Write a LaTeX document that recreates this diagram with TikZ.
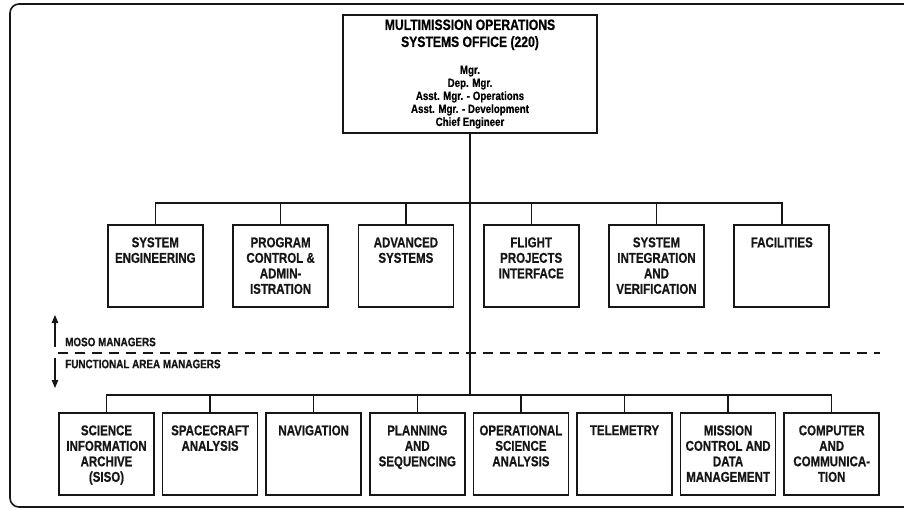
\documentclass[tikz,border=0pt]{standalone}
\usepackage{fontspec}
\setmainfont{Liberation Sans}[FakeStretch=0.81, BoldFeatures={FakeBold=0.6}]
\usepackage{tikz}
\usetikzlibrary{arrows.meta,positioning}
\definecolor{InkBlack}{HTML}{161616}
\newcommand{\unitfont}{\fontsize{14.2}{15.5}\selectfont\bfseries}
\newcommand{\titlefont}{\fontsize{15}{17}\selectfont\bfseries}
\newcommand{\stafffont}{\fontsize{12}{13}\selectfont\bfseries}
\newcommand{\tierfont}{\fontsize{12.2}{13}\selectfont\bfseries}

\begin{document}
\begin{tikzpicture}[
  x=1pt, y=-1pt,
  % outer frame
  frame/.style={draw=InkBlack, line width=1.6pt, rounded corners=9pt},
  % office box on top
  office/.style={draw=InkBlack, line width=1.8pt,
                 minimum width=254pt, minimum height=118pt,
                 align=center, font=\stafffont, inner sep=0pt},
  % unit boxes (text set at the top)
  unit/.style={draw=InkBlack, line width=1.7pt,
               minimum width=95pt, minimum height=82pt, inner sep=0pt},
  utext/.style={anchor=north, yshift=-13pt, align=center,
                font=\unitfont, inner sep=0pt, text=InkBlack},
  % connectors
  conn/.style={draw=InkBlack, line width=1.4pt},
  tier/.style={anchor=west, font=\tierfont, inner sep=0pt, text=InkBlack},
  tierarr/.style={-{Triangle[length=8pt,width=6.5pt]}, draw=InkBlack, line width=1.3pt},
  divide/.style={draw=InkBlack, line width=1.2pt, dash pattern=on 10pt off 7pt},
]
\clip (0,0) rectangle (904,510);
\draw[frame] (10,4) rectangle (922,507);

%% ── Office ───────────────────────────────────────────────────────────────
\node[office] (MOSO) at (470,74)
  {{\titlefont MULTIMISSION OPERATIONS}\\[4pt]{\titlefont SYSTEMS OFFICE (220)}\\[14pt]
   Mgr.\\Dep. Mgr.\\Asst. Mgr. - Operations\\Asst. Mgr. - Development\\Chief Engineer};

%% ── MOSO managers (upper row) ────────────────────────────────────────────
\begin{scope}[node distance=28.6pt]
\node[unit, label={[utext]north:SYSTEM\\ENGINEERING}] (SE) at (155.3,266) {};
\node[unit, right=of SE, label={[utext]north:PROGRAM\\CONTROL \&\\ADMIN-\\ISTRATION}] (PCA) {};
\node[unit, right=of PCA, label={[utext]north:ADVANCED\\SYSTEMS}] (AS) {};
\node[unit, right=of AS, label={[utext]north:FLIGHT\\PROJECTS\\INTERFACE}] (FPI) {};
\node[unit, right=of FPI, label={[utext]north:SYSTEM\\INTEGRATION\\AND\\VERIFICATION}] (SIV) {};
\node[unit, right=of SIV, label={[utext]north:FACILITIES}] (FAC) {};
\end{scope}

%% ── Functional area managers (lower row) ─────────────────────────────────
\begin{scope}[node distance=6.9pt]
\node[unit, label={[utext]north:SCIENCE\\INFORMATION\\ARCHIVE\\(SISO)}] (SIA) at (106.5,454) {};
\node[unit, right=of SIA, label={[utext]north:SPACECRAFT\\ANALYSIS}] (SA) {};
\node[unit, right=of SA, label={[utext]north:NAVIGATION}] (NAV) {};
\node[unit, right=of NAV, label={[utext]north:PLANNING\\AND\\SEQUENCING}] (PS) {};
\node[unit, right=of PS, label={[utext]north:OPERATIONAL\\SCIENCE\\ANALYSIS}] (OSA) {};
\node[unit, right=of OSA, label={[utext]north:TELEMETRY}] (TEL) {};
\node[unit, right=of TEL, label={[utext]north:MISSION\\CONTROL AND\\DATA\\MANAGEMENT}] (MCDM) {};
\node[unit, right=of MCDM, label={[utext]north:COMPUTER\\AND\\COMMUNICA-\\TION}] (CC) {};
\end{scope}

%% ── Tier divider ─────────────────────────────────────────────────────────
\node[tier] (MM)  at (65,342) {MOSO MANAGERS};
\node[tier] (FAM) at (65,364) {FUNCTIONAL AREA MANAGERS};
\coordinate (upFoot) at (55,347);
\coordinate (upTip)  at (55,315);
\coordinate (dnFoot) at (55,358);
\coordinate (dnTip)  at (55,388);
\coordinate (divL)   at (58,353);
\coordinate (divR)   at (880,353);
\draw[tierarr] (upFoot) -- (upTip);
\draw[tierarr] (dnFoot) -- (dnTip);
\draw[divide]  (divL) -- (divR);

%% ── Buses ────────────────────────────────────────────────────────────────
\coordinate (upbus)  at (0,203);
\coordinate (lowbus) at (0,395);
\draw[conn] (MOSO.south) -- (MOSO.south |- lowbus);
\draw[conn] (SE.north) -- (SE.north |- upbus) -- (FAC.north |- upbus) -- (FAC.north);
\foreach \u in {PCA,AS,FPI,SIV}
  \draw[conn] (\u.north) -- (\u.north |- upbus);
\draw[conn] (SIA.north) -- (SIA.north |- lowbus) -- (CC.north |- lowbus) -- (CC.north);
\foreach \u in {SA,NAV,PS,OSA,TEL,MCDM}
  \draw[conn] (\u.north) -- (\u.north |- lowbus);

\end{tikzpicture}
\end{document}
